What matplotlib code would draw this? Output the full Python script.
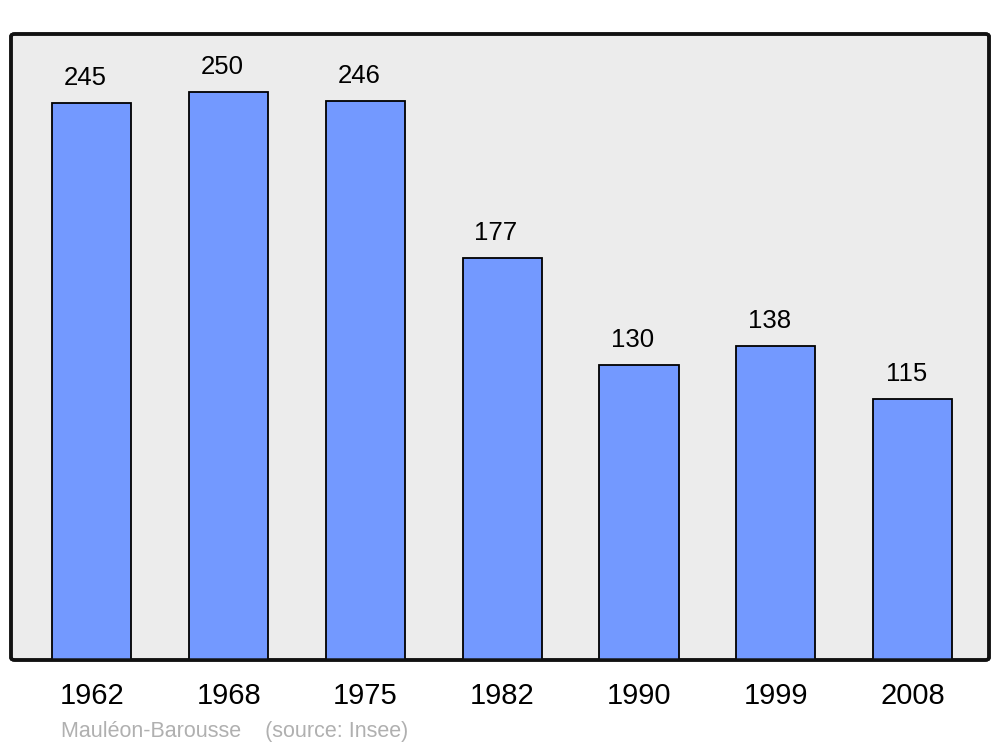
import matplotlib
matplotlib.use("Agg")
import matplotlib.pyplot as plt
from matplotlib.patches import FancyBboxPatch

years = ["1962", "1968", "1975", "1982", "1990", "1999", "2008"]
population = [245, 250, 246, 177, 130, 138, 115]
source_text = "Mauléon-Barousse    (source: Insee)"

plt.rcParams['font.family'] = ['Liberation Sans', 'DejaVu Sans']

fig = plt.figure(figsize=(10, 7.47), dpi=100)
ax = fig.add_axes([0.011, (747 - 660) / 747, 0.978, 626 / 747])
ax.set_facecolor('#ececec')

x = list(range(len(years)))
bars = ax.bar(x, population, width=0.578, color='#7399ff', edgecolor='black', linewidth=1.3, zorder=2)

for xi, v in zip(x, population):
    ax.annotate(str(v), (xi, v), xytext=(-4.5, 13), textcoords='offset points',
                ha='center', va='baseline', fontsize=18.5, color='black')

ax.set_xlim(-0.592, 6.559)
ax.set_ylim(0, 275.5)
ax.set_xticks(x)
ax.set_xticklabels(years, fontsize=21)
ax.tick_params(axis='x', length=0, pad=16)
for lbl in ax.get_xticklabels():
    lbl.set_x(lbl.get_position()[0])
ax.set_yticks([])
for s in ax.spines.values():
    s.set_visible(False)
ax.patch.set_visible(False)
frame = FancyBboxPatch((0, 0), 1, 1, boxstyle='round,pad=0,rounding_size=0.004',
                       transform=ax.transAxes, facecolor='#ececec', edgecolor='#111111',
                       linewidth=2.5, zorder=0, clip_on=False)
ax.add_patch(frame)
frame2 = FancyBboxPatch((0, 0), 1, 1, boxstyle='round,pad=0,rounding_size=0.004',
                        transform=ax.transAxes, facecolor='none', edgecolor='#111111',
                        linewidth=2.5, zorder=5, clip_on=False)
ax.add_patch(frame2)

fig.text(0.061, 1 - 731 / 747, source_text, fontsize=15.5, color='#b0b0b0',
         ha='left', va='center')

fig.savefig('out.png', dpi=100, facecolor='white')
